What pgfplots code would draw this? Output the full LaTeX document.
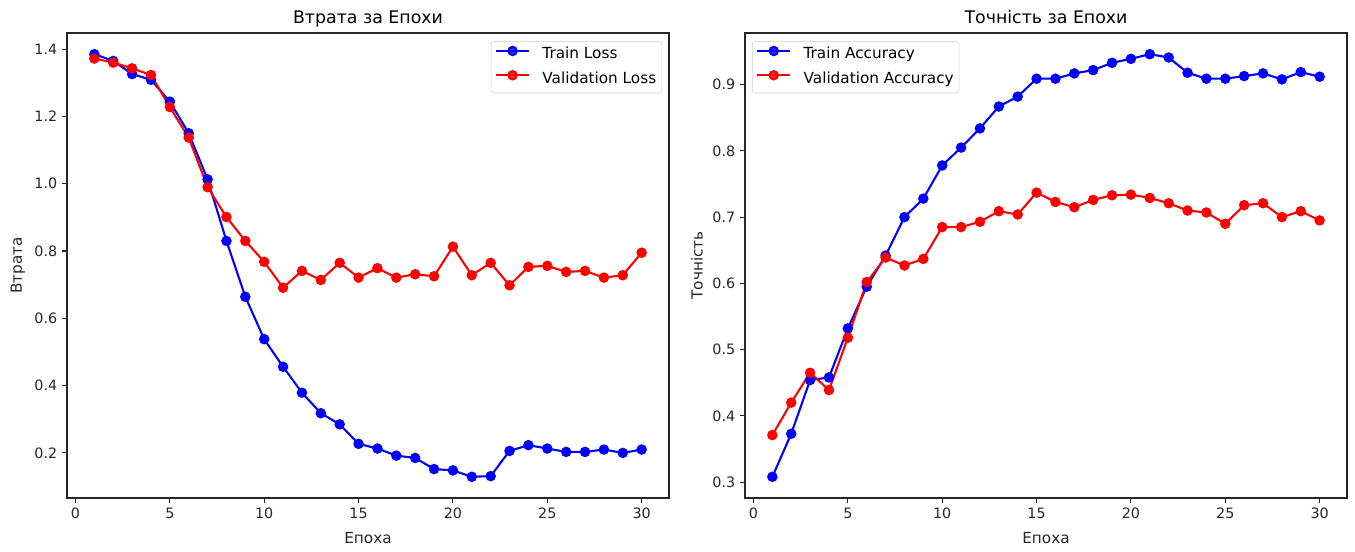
\documentclass[border=0pt]{standalone}
\usepackage{fontspec}
\setmainfont{DejaVu Sans}
\usepackage{pgfplots}
\usepackage{pgfplotstable}
\pgfplotsset{compat=1.18}

\pgfplotstableread{
x y
1 1.385
2 1.365
3 1.326
4 1.309
5 1.244
6 1.150
7 1.013
8 0.830
9 0.664
10 0.538
11 0.456
12 0.379
13 0.318
14 0.285
15 0.227
16 0.213
17 0.192
18 0.185
19 0.152
20 0.148
21 0.129
22 0.131
23 0.206
24 0.223
25 0.213
26 0.203
27 0.203
28 0.210
29 0.200
30 0.210
}\trainloss
\pgfplotstableread{
x y
1 1.372
2 1.360
3 1.343
4 1.323
5 1.228
6 1.137
7 0.990
8 0.901
9 0.830
10 0.768
11 0.691
12 0.741
13 0.714
14 0.765
15 0.721
16 0.749
17 0.721
18 0.731
19 0.725
20 0.813
21 0.728
22 0.765
23 0.698
24 0.753
25 0.756
26 0.738
27 0.741
28 0.721
29 0.728
30 0.795
}\valloss
\pgfplotstableread{
x y
1 0.308
2 0.373
3 0.454
4 0.458
5 0.532
6 0.595
7 0.642
8 0.700
9 0.728
10 0.778
11 0.805
12 0.834
13 0.867
14 0.882
15 0.909
16 0.909
17 0.917
18 0.922
19 0.933
20 0.939
21 0.946
22 0.941
23 0.918
24 0.909
25 0.909
26 0.913
27 0.917
28 0.908
29 0.919
30 0.912
}\trainacc
\pgfplotstableread{
x y
1 0.371
2 0.420
3 0.465
4 0.439
5 0.518
6 0.602
7 0.639
8 0.627
9 0.637
10 0.685
11 0.685
12 0.693
13 0.709
14 0.704
15 0.737
16 0.723
17 0.715
18 0.726
19 0.733
20 0.734
21 0.729
22 0.721
23 0.710
24 0.707
25 0.690
26 0.718
27 0.721
28 0.700
29 0.709
30 0.695
}\valacc

\pgfplotsset{
  mystyle/.style={
    scale only axis, width=433.44pt, height=334.8pt, anchor=south west,
    xmin=-0.45, xmax=31.45,
    xtick={0,5,...,30},
    axis line style={line width=0.8pt, black!85},
    tick style={line width=0.8pt, black!85},
    tick align=outside, major tick length=3.5pt,
    xtick pos=bottom, ytick pos=left,
    tick label style={font=\fontsize{10.3}{12}\selectfont, black!85},
    /pgf/number format/assume math mode=true,
    yticklabel style={/pgf/number format/.cd, fixed, fixed zerofill, precision=1},
    label style={font=\fontsize{11}{13}\selectfont, black!85},
    xlabel style={yshift=-3pt},
    every axis title shift=0pt,
    title style={font=\fontsize{12.5}{14}\selectfont, at={(0.5,1)}, anchor=base, yshift=6.5pt},
    legend style={font=\fontsize{11}{13}\selectfont, draw=black!20, rounded corners=2pt,
      fill=white, fill opacity=0.8, text opacity=1, inner xsep=3pt, inner ysep=3.5pt,
      row sep=5pt,
      nodes={inner sep=1pt, text height=8pt, text depth=2.5pt},
      /tikz/every odd column/.append style={column sep=8pt}},
    legend cell align=left,
    legend image code/.code={\draw[mark repeat=2,mark phase=2] plot coordinates {(0pt,3pt) (11.75pt,3pt) (23.5pt,3pt)};},
    every axis plot/.append style={line width=1.5pt, mark=*, mark size=3pt, mark options={solid, line width=1pt}},
  }
}

\begin{document}
\begin{tikzpicture}
\useasboundingbox (0,0) rectangle (975.6pt,396.72pt);
\begin{axis}[mystyle, at={(48.24pt,38.16pt)},
  ymin=0.066, ymax=1.448, ytick={0.2,0.4,...,1.41},
  title={Втрата за Епохи}, xlabel={Епоха}, ylabel={Втрата},
  legend style={at={(1,1)}, anchor=north east, xshift=-5pt, yshift=-6pt}]
\addplot[color=blue, mark options={fill=blue}] table {\trainloss};
\addlegendentry{Train Loss}
\addplot[color=red, mark options={fill=red}] table {\valloss};
\addlegendentry{Validation Loss}
\end{axis}
\begin{axis}[mystyle, at={(536.4pt,38.16pt)},
  ymin=0.276, ymax=0.978, ytick={0.3,0.4,...,0.91},
  title={Точність за Епохи}, xlabel={Епоха}, ylabel={Точність},
  legend style={at={(0,1)}, anchor=north west, xshift=5pt, yshift=-6pt}]
\addplot[color=blue, mark options={fill=blue}] table {\trainacc};
\addlegendentry{Train Accuracy}
\addplot[color=red, mark options={fill=red}] table {\valacc};
\addlegendentry{Validation Accuracy}
\end{axis}
\end{tikzpicture}
\end{document}
